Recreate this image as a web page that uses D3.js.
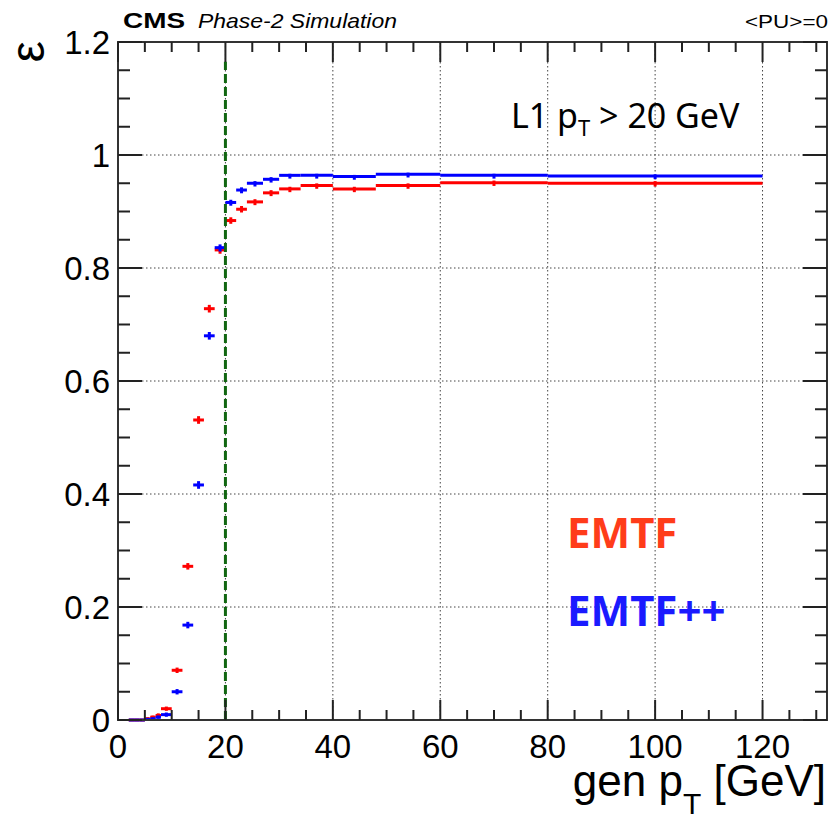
<!DOCTYPE html>
<html>
<head>
<meta charset="utf-8">
<script src="https://cdn.jsdelivr.net/npm/d3@7"></script>
<style>
  body { margin: 0; background: #fff; }
  svg { display: block; }
</style>
</head>
<body>
<div id="chart"></div>
<script>
// bin edges (gen pT, GeV)
var binLo = [2, 3, 4, 5, 6, 7, 8, 10, 12, 14, 16, 18, 20, 22, 24, 27, 30, 34, 40, 48, 60, 80];
var binHi = [3, 4, 5, 6, 7, 8, 10, 12, 14, 16, 18, 20, 22, 24, 27, 30, 34, 40, 48, 60, 80, 120];

// efficiencies
var emtf   = [0, 0, 0, 0.002, 0.005, 0.008, 0.020, 0.088, 0.272, 0.531, 0.728, 0.832, 0.884, 0.904, 0.917, 0.933, 0.940, 0.946, 0.940, 0.946, 0.951, 0.950];
var emtfpp = [0, 0, 0, 0.001, 0.002, 0.005, 0.0095, 0.050, 0.168, 0.416, 0.680, 0.836, 0.916, 0.938, 0.950, 0.957, 0.964, 0.964, 0.962, 0.966, 0.964, 0.963];

// asymmetric errors
var emtfErrLo   = [0, 0, 0, 0.001, 0.001, 0.002, 0.002, 0.003, 0.004, 0.005, 0.005, 0.005, 0.004, 0.004, 0.004, 0.004, 0.004, 0.004, 0.004, 0.004, 0.004, 0.004];
var emtfErrHi   = [0, 0, 0, 0.001, 0.001, 0.002, 0.002, 0.003, 0.004, 0.005, 0.005, 0.005, 0.004, 0.004, 0.003, 0.003, 0.002, 0.002, 0.002, 0.002, 0.002, 0.002];
var emtfppErrLo = [0, 0, 0, 0.001, 0.001, 0.001, 0.002, 0.003, 0.004, 0.005, 0.005, 0.005, 0.004, 0.004, 0.004, 0.004, 0.004, 0.004, 0.004, 0.004, 0.004, 0.004];
var emtfppErrHi = [0, 0, 0, 0.001, 0.001, 0.001, 0.002, 0.003, 0.004, 0.005, 0.005, 0.004, 0.003, 0.003, 0.002, 0.002, 0.001, 0.001, 0.001, 0.001, 0.001, 0.001];

var xMajor = [0, 20, 40, 60, 80, 100, 120];
var yMajor = [0, 0.2, 0.4, 0.6, 0.8, 1, 1.2];
var yLabels = ["0", "0.2", "0.4", "0.6", "0.8", "1", "1.2"];

var threshold = 20;      // L1 pT cut
var thresholdTop = 1.165;

var width = 831, height = 822;
var padL = 118, padR = 827, padT = 42, padB = 720;

var svg = d3.select("#chart")
  .append("svg")
    .attr("width", width)
    .attr("height", height);

var x = d3.scaleLinear().domain([0, 132]).range([padL, padR]);
var y = d3.scaleLinear().domain([0, 1.2]).range([padB, padT]);

var font = "'Liberation Sans', Arial, Helvetica, sans-serif";

// grid
svg.append("g")
  .selectAll("line")
  .data(xMajor.filter(function(d) { return d > 0; }))
  .enter()
  .append("line")
    .attr("x1", function(d) { return x(d); })
    .attr("x2", function(d) { return x(d); })
    .attr("y1", padT)
    .attr("y2", padB)
    .attr("stroke", "#444")
    .attr("stroke-width", 1)
    .attr("stroke-dasharray", "1.5,2.5");

svg.append("g")
  .selectAll("line")
  .data(yMajor.filter(function(d) { return d > 0 && d < 1.2; }))
  .enter()
  .append("line")
    .attr("x1", padL)
    .attr("x2", padR)
    .attr("y1", function(d) { return y(d); })
    .attr("y2", function(d) { return y(d); })
    .attr("stroke", "#444")
    .attr("stroke-width", 1)
    .attr("stroke-dasharray", "1.5,2.5");

// draw one efficiency series as horizontal bin bars + vertical error bars
function drawSeries(vals, errLo, errHi, color) {
  var g = svg.append("g");
  var idx = d3.range(vals.length);

  g.selectAll("line.h")
    .data(idx)
    .enter()
    .append("line")
      .attr("class", "h")
      .attr("x1", function(i) { return x(binLo[i]); })
      .attr("x2", function(i) { return x(binHi[i]); })
      .attr("y1", function(i) { return y(vals[i]); })
      .attr("y2", function(i) { return y(vals[i]); })
      .attr("stroke", color)
      .attr("stroke-width", 3);

  g.selectAll("line.v")
    .data(idx.filter(function(i) { return errLo[i] + errHi[i] > 0; }))
    .enter()
    .append("line")
      .attr("class", "v")
      .attr("x1", function(i) { return x((binLo[i] + binHi[i]) / 2); })
      .attr("x2", function(i) { return x((binLo[i] + binHi[i]) / 2); })
      .attr("y1", function(i) { return y(vals[i] - errLo[i]) + 1; })
      .attr("y2", function(i) { return y(vals[i] + errHi[i]) - 1; })
      .attr("stroke", color)
      .attr("stroke-width", 3);
}

drawSeries(emtf, emtfErrLo, emtfErrHi, "#ff0000");
drawSeries(emtfpp, emtfppErrLo, emtfppErrHi, "#0000ff");

// threshold line
svg.append("line")
  .attr("x1", x(threshold))
  .attr("x2", x(threshold))
  .attr("y1", y(0))
  .attr("y2", y(thresholdTop))
  .attr("stroke", "#116611")
  .attr("stroke-width", 3)
  .attr("stroke-dasharray", "9,4");

// frame
svg.append("rect")
  .attr("x", padL)
  .attr("y", padT)
  .attr("width", padR - padL)
  .attr("height", padB - padT)
  .attr("fill", "none")
  .attr("stroke", "#333")
  .attr("stroke-width", 2);

// ticks on all four sides
var xTicks = d3.range(0, 131, 5);
var yTicks = d3.range(0, 1.201, 0.05);

function isMajorX(d) { return d % 20 === 0; }
function isMajorY(d) { return Math.abs(d / 0.2 - Math.round(d / 0.2)) < 1e-6; }

var tg = svg.append("g").attr("stroke", "#222").attr("stroke-width", 2);

xTicks.forEach(function(d) {
  var len = isMajorX(d) ? 20 : 10;
  tg.append("line").attr("x1", x(d)).attr("x2", x(d)).attr("y1", padB).attr("y2", padB - len);
  tg.append("line").attr("x1", x(d)).attr("x2", x(d)).attr("y1", padT).attr("y2", padT + len);
});
yTicks.forEach(function(d) {
  var len = isMajorY(d) ? 24 : 12;
  tg.append("line").attr("x1", padL).attr("x2", padL + len).attr("y1", y(d)).attr("y2", y(d));
  tg.append("line").attr("x1", padR).attr("x2", padR - len).attr("y1", y(d)).attr("y2", y(d));
});

// tick labels
svg.append("g")
  .selectAll("text")
  .data(xMajor)
  .enter()
  .append("text")
    .attr("x", function(d) { return x(d); })
    .attr("y", 758)
    .attr("text-anchor", "middle")
    .style("font-family", font)
    .style("font-size", "33px")
    .text(function(d) { return d; });

svg.append("g")
  .selectAll("text")
  .data(yMajor)
  .enter()
  .append("text")
    .attr("x", padL - 8)
    .attr("y", function(d) { return y(d) + 12; })
    .attr("text-anchor", "end")
    .style("font-family", font)
    .style("font-size", "33px")
    .text(function(d, i) { return yLabels[i]; });

// axis titles
var xt = svg.append("text")
  .attr("x", padR - 1)
  .attr("y", 796)
  .attr("text-anchor", "end")
  .style("font-family", font)
  .style("font-size", "44px");
xt.append("tspan").text("gen p");
xt.append("tspan").attr("dy", 18).style("font-size", "30px").text("T");
xt.append("tspan").attr("dy", -18).text(" [GeV]");

svg.append("text")
  .attr("transform", "translate(44," + (padT - 1) + ") rotate(-90)")
  .attr("text-anchor", "end")
  .style("font-family", font)
  .style("font-size", "48px")
  .text("ε");

// header
svg.append("text")
  .attr("x", 123).attr("y", 28)
  .attr("textLength", 62).attr("lengthAdjust", "spacingAndGlyphs")
  .style("font-family", font).style("font-weight", "bold").style("font-size", "22px")
  .text("CMS");
svg.append("text")
  .attr("x", 198).attr("y", 28)
  .attr("textLength", 199).attr("lengthAdjust", "spacingAndGlyphs")
  .style("font-family", font).style("font-style", "italic").style("font-size", "21px")
  .text("Phase-2 Simulation");
svg.append("text")
  .attr("x", 745).attr("y", 28)
  .attr("textLength", 83).attr("lengthAdjust", "spacingAndGlyphs")
  .style("font-family", font).style("font-size", "19px")
  .text("<PU>=0");

// annotations
var cut = svg.append("text")
  .attr("x", 511).attr("y", 128)
  .style("font-family", "'Noto Sans', 'Open Sans', sans-serif")
  .style("font-size", "34px");
cut.append("tspan").text("L1 p");
cut.append("tspan").attr("dy", 8).style("font-size", "22px").text("T");
cut.append("tspan").attr("dy", -8).text(" > 20 GeV");

svg.append("text")
  .attr("x", 567).attr("y", 548)
  .attr("fill", "#ff3c1a")
  .style("font-family", "'Noto Sans', 'Open Sans', sans-serif")
  .style("font-weight", "bold")
  .style("font-size", "42px")
  .text("EMTF");

svg.append("text")
  .attr("x", 567).attr("y", 626)
  .attr("fill", "#1a1aff")
  .style("font-family", "'Noto Sans', 'Open Sans', sans-serif")
  .style("font-weight", "bold")
  .style("font-size", "42px")
  .text("EMTF++");
</script>
</body>
</html>
